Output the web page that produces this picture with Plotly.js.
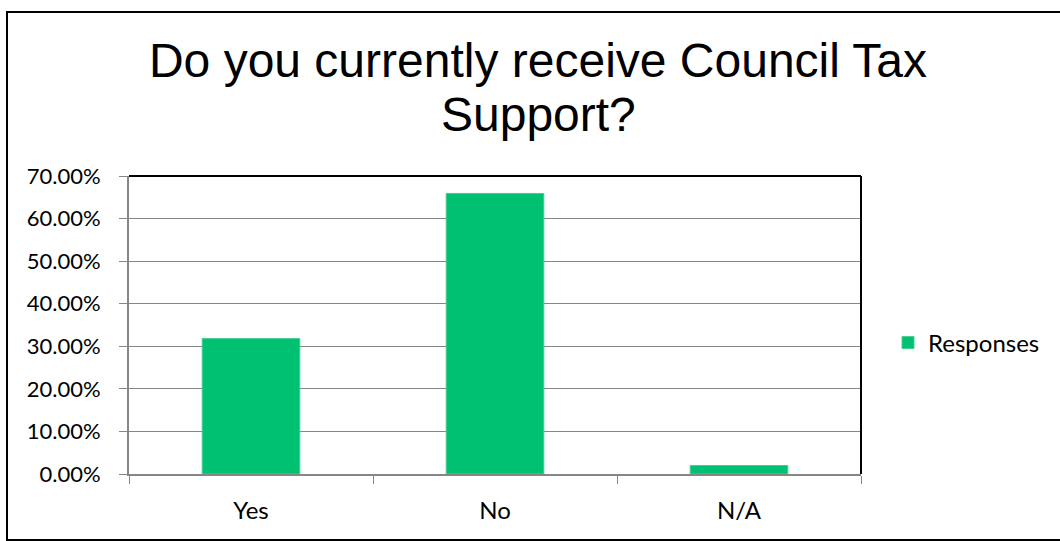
<!DOCTYPE html>
<html>
<head>
<meta charset="utf-8">
<script src="https://cdn.plot.ly/plotly-3.0.1.min.js"></script>
<style>html,body{margin:0;padding:0;background:#fff;}#chart{width:1060px;height:541px;}</style>
</head>
<body>
<div id="chart"></div>
<script>
const categories = ["Yes", "No", "N/A"];
const responses = [0.318, 0.659, 0.020];
const seriesName = "Responses";
const yTickValues = [0, 0.1, 0.2, 0.3, 0.4, 0.5, 0.6, 0.7];
const titleLine1 = "Do you currently receive Council Tax";
const titleLine2 = "Support?";

const L = 129, R = 199, T = 176, B = 67, W = 1060, H = 541;
const pw = W - L - R, ph = H - T - B;
const px = v => (v - L) / pw;
const py = v => (H - B - v) / ph;
const titleFont = {family: "'Liberation Sans', Arial, sans-serif", size: 48, color: "#000"};
const frameLine = {color: "#000", width: 2};

const trace = {
  type: "bar",
  x: categories,
  y: responses,
  name: seriesName,
  marker: {color: "#00C072", line: {color: "#40CF90", width: 1}},
  showlegend: true,
  hoverinfo: "x+y"
};

const layout = {
  width: W, height: H,
  margin: {l: L, r: R, t: T, b: B, pad: 0},
  paper_bgcolor: "#fff", plot_bgcolor: "#fff",
  font: {family: "Lato, 'Open Sans', sans-serif", size: 24, color: "#000"},
  title: {
    text: titleLine1,
    font: titleFont,
    xref: "container", x: 538 / W, xanchor: "center",
    yref: "container", y: 1 - 43 / H, yanchor: "top"
  },
  bargap: 0.6,
  xaxis: {
    type: "category",
    showgrid: false,
    showline: true, linecolor: "#868686", linewidth: 2,
    ticks: "outside", tickson: "boundaries", ticklen: 8, tickcolor: "#868686", tickwidth: 1,
    tickfont: {size: 24}, ticklabelstandoff: 14,
    zeroline: false, fixedrange: true
  },
  yaxis: {
    range: [0, 0.7],
    tickvals: yTickValues,
    tickformat: ".2%",
    showgrid: true, gridcolor: "#868686", gridwidth: 1,
    showline: true, linecolor: "#868686", linewidth: 2,
    ticks: "outside", ticklen: 8, tickcolor: "#868686", tickwidth: 1,
    tickfont: {size: 22}, ticklabelstandoff: 14,
    zeroline: false, fixedrange: true
  },
  legend: {
    x: px(888), xanchor: "left", y: py(343), yanchor: "middle",
    font: {size: 24}, itemwidth: 30, bgcolor: "rgba(0,0,0,0)"
  },
  annotations: [
    {text: titleLine2, font: titleFont, showarrow: false,
     xref: "paper", x: px(538), xanchor: "center",
     yref: "paper", y: py(114), yanchor: "middle"}
  ],
  shapes: [
    {type: "line", xref: "paper", yref: "paper", x0: 0, x1: 1, y0: 1, y1: 1, line: frameLine},
    {type: "line", xref: "paper", yref: "paper", x0: 1, x1: 1, y0: 0, y1: 1, line: frameLine},
    {type: "line", xref: "paper", yref: "paper", x0: px(7), x1: px(7), y0: py(540), y1: py(12), line: frameLine},
    {type: "line", xref: "paper", yref: "paper", x0: px(6), x1: px(1070), y0: py(12), y1: py(12), line: frameLine},
    {type: "line", xref: "paper", yref: "paper", x0: px(6), x1: px(1070), y0: py(540), y1: py(540), line: frameLine}
  ]
};

Plotly.newPlot("chart", [trace], layout, {displayModeBar: false, staticPlot: true});
</script>
</body>
</html>
